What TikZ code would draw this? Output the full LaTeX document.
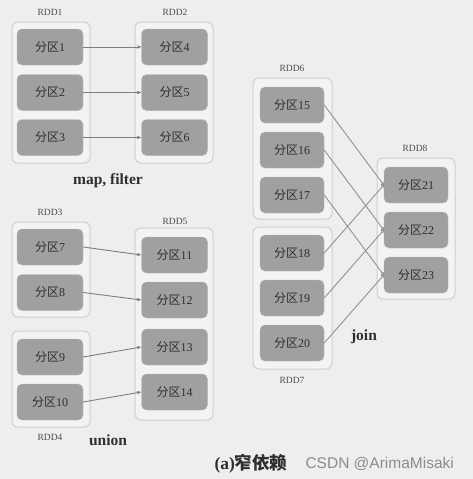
\documentclass[tikz,border=0pt]{standalone}
\usepackage{fontspec}
\setmainfont{Liberation Serif}
\newfontfamily\cjk{Noto Sans CJK SC}
\newfontfamily\wm{Liberation Sans}
\usetikzlibrary{fit,arrows.meta}
\definecolor{bg}{HTML}{EEEEEE}
\definecolor{boxbg}{HTML}{F3F3F3}
\definecolor{boxline}{HTML}{CFCFCF}
\definecolor{part}{HTML}{A0A0A0}
\definecolor{partline}{HTML}{B8B8B8}
\definecolor{txt}{HTML}{2E2E2E}
\definecolor{arr}{HTML}{7E7E7E}
\tikzset{
  partbox/.style={draw=partline, fill=part, rounded corners=5pt, minimum width=66pt, minimum height=36pt, inner sep=0pt, text=txt, font=\fontsize{12}{14}\selectfont},
  rddbox/.style={draw=boxline, fill=boxbg, rounded corners=6pt, line width=1pt, inner xsep=6pt, inner ysep=7pt},
  rddlab/.style={text=txt!85, font=\fontsize{9.5}{11}\selectfont},
  oplab/.style={text=txt, font=\fontsize{15.5}{18}\selectfont\bfseries},
  conn/.style={draw=arr, line width=0.9pt, -{Stealth[length=4.5pt,width=3.5pt]}},
  jconn/.style={draw=arr!85, line width=0.9pt, -{Circle[open,length=3.5pt,width=3.5pt]}}
}
\newcommand{\fq}[1]{{\cjk 分区}#1}
\begin{document}
\begin{tikzpicture}[x=1pt,y=-1pt]
\fill[bg] (0,0) rectangle (473,479);
\useasboundingbox (0,0) rectangle (473,479);
% outer boxes
\node[rddbox, minimum width=78pt, minimum height=141pt] (rdd1) at (51,92.5) {};
\node[rddbox, minimum width=78pt, minimum height=141pt] (rdd2) at (174,92.5) {};
\node[rddbox, minimum width=78pt, minimum height=95pt] (rdd3) at (51,269.5) {};
\node[rddbox, minimum width=78pt, minimum height=96pt] (rdd4) at (51,379) {};
\node[rddbox, minimum width=78pt, minimum height=192pt] (rdd5) at (174,324) {};
\node[rddbox, minimum width=79pt, minimum height=141pt] (rdd6) at (292.5,148.5) {};
\node[rddbox, minimum width=79pt, minimum height=142pt] (rdd7) at (292.5,298) {};
\node[rddbox, minimum width=78pt, minimum height=141pt] (rdd8) at (416,228.5) {};
% partitions
\node[partbox] (n1) at (50,47) {\fq{1}};
\node[partbox] (n2) at (50,92.5) {\fq{2}};
\node[partbox] (n3) at (50,137.5) {\fq{3}};
\node[partbox] (n4) at (174.5,47) {\fq{4}};
\node[partbox] (n5) at (174.5,92.5) {\fq{5}};
\node[partbox] (n6) at (174.5,137.5) {\fq{6}};
\node[partbox] (n7) at (50,247) {\fq{7}};
\node[partbox] (n8) at (50,292.5) {\fq{8}};
\node[partbox] (n9) at (50,357) {\fq{9}};
\node[partbox] (n10) at (50,402) {\fq{10}};
\node[partbox] (n11) at (174.5,255) {\fq{11}};
\node[partbox] (n12) at (174.5,300) {\fq{12}};
\node[partbox] (n13) at (174.5,347) {\fq{13}};
\node[partbox] (n14) at (174.5,392) {\fq{14}};
\node[partbox, minimum width=64pt] (n15) at (292,105) {\fq{15}};
\node[partbox, minimum width=64pt] (n16) at (292,150) {\fq{16}};
\node[partbox, minimum width=64pt] (n17) at (292,195) {\fq{17}};
\node[partbox, minimum width=64pt] (n18) at (292,253) {\fq{18}};
\node[partbox, minimum width=64pt] (n19) at (292,298) {\fq{19}};
\node[partbox, minimum width=64pt] (n20) at (292,343) {\fq{20}};
\node[partbox, minimum width=64pt] (n21) at (416,185) {\fq{21}};
\node[partbox, minimum width=64pt] (n22) at (416,230) {\fq{22}};
\node[partbox, minimum width=64pt] (n23) at (416,275) {\fq{23}};
% labels
\node[rddlab] (l1) at (50,12) {RDD1};
\node[rddlab] (l2) at (175,12) {RDD2};
\node[rddlab] (l3) at (50,212) {RDD3};
\node[rddlab] (l4) at (50,437) {RDD4};
\node[rddlab] (l5) at (175,221) {RDD5};
\node[rddlab] (l6) at (292,68) {RDD6};
\node[rddlab] (l7) at (292,380) {RDD7};
\node[rddlab] (l8) at (415,148) {RDD8};
\node[oplab] (o1) at (108,181) {map, filter};
\node[oplab] (o2) at (108,440) {union};
\node[oplab] (o3) at (364,337) {join};
\node[oplab, anchor=east, font=\fontsize{17.5}{20}\selectfont\bfseries] (cap) at (291,464) {(a){\cjk 窄依赖}};
\node[text=black!45, font=\wm\fontsize{15.5}{18}\selectfont, anchor=west] (wm) at (302,464) {CSDN @ArimaMisaki};
% connectors
\draw[conn] (n1.east) -- (n4.west);
\draw[conn] (n2.east) -- (n5.west);
\draw[conn] (n3.east) -- (n6.west);
\draw[conn] (n7.east) -- (n11.west);
\draw[conn] (n8.east) -- (n12.west);
\draw[conn] (n9.east) -- (n13.west);
\draw[conn] (n10.east) -- (n14.west);
\draw[jconn] (n15.east) -- (n21.west);
\draw[jconn] (n16.east) -- (n22.west);
\draw[jconn] (n17.east) -- (n23.west);
\draw[jconn] (n18.east) -- (n21.west);
\draw[jconn] (n19.east) -- (n22.west);
\draw[jconn] (n20.east) -- (n23.west);
\end{tikzpicture}
\end{document}
